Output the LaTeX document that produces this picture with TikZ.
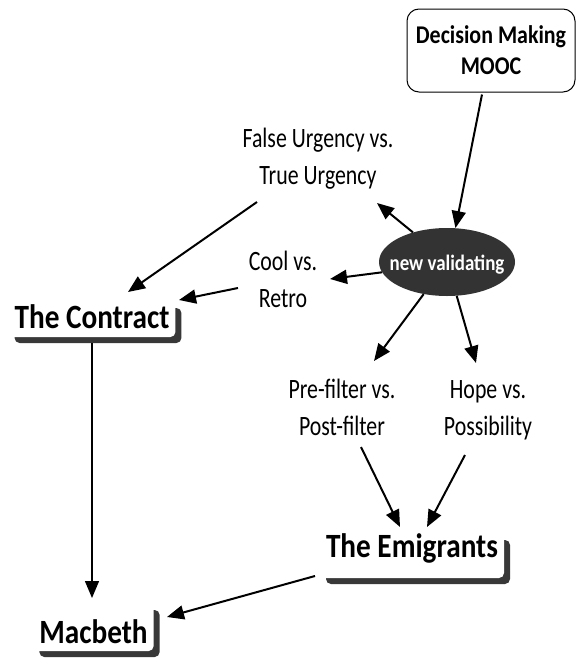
\documentclass[tikz,border=0pt]{standalone}
\usepackage{fontspec}
\setmainfont{Carlito}[FakeStretch=0.86]
\newfontfamily\topicfont{Carlito}[FakeStretch=0.78]
\usetikzlibrary{arrows.meta,shapes.geometric,shadows}
\begin{document}
\begin{tikzpicture}[x=1pt,y=-1pt,
  link/.style={line width=2pt,-{Triangle[length=17pt,width=14pt]}},
  thinlink/.style={link,line width=1.4pt},
  topic/.style={anchor=base,align=center,inner sep=0pt,
    font=\topicfont\fontsize{28}{36.5}\selectfont},
  title/.style={anchor=base,fill=white,rounded corners=5pt,
    inner xsep=6pt,inner ysep=0pt,
    font=\fontsize{34}{40}\selectfont\bfseries,
    drop shadow={shadow xshift=6pt,shadow yshift=-6pt,fill=black!78,opacity=1}},
  hub/.style={ellipse,fill=black!80,inner sep=0pt,
    minimum width=136pt,minimum height=68pt,text=white,
    text height=16pt,text depth=0pt,
    font=\fontsize{22}{26}\selectfont\bfseries},
  source/.style={draw,line width=1pt,rounded corners=12pt,
    minimum width=168pt,minimum height=83pt,align=center,
    font=\fontsize{25.5}{31}\selectfont\bfseries}
]
\useasboundingbox (0,0) rectangle (576,659);
\fill[white] (0,0) rectangle (576,659);

% concept nodes (two-line topics sit on the baseline of their last line)
\node[source] (mooc) at (491,50.5) {Decision Making\\MOOC};
\node[hub] (val) at (447,262) {\makebox[0pt]{new validating}};
\node[topic] (fu) at (318,184) {False Urgency vs.\\True Urgency};
\node[topic] (cool) at (283,307) {Cool vs.\\Retro};
\node[topic] (pre) at (342,435) {Pre-filter vs.\\Post-filter};
\node[topic] (hope) at (488,435) {Hope vs.\\Possibility};
\node[title,text height=26pt,text depth=9pt] (contract) at (92,328) {The Contract};
\node[title,text height=23pt,text depth=21pt] (emig) at (412,557) {The Emigrants};
\node[title,text height=39pt,text depth=8pt] (mac) at (93.5,643) {Macbeth};

% links
\draw[link] ([xshift=-9pt,yshift=-2pt]mooc.south) -- (val.76);
\draw[link] (val.139) -- ([shift={(59,19)}]fu.base);
\draw[link] (val.189) -- ([shift={(47,-28)}]cool.base);
\draw[link] (val.234) -- ([shift={(32,-74)}]pre.base);
\draw[link] (val.286) -- ([shift={(-12,-72)}]hope.base);
\draw[link] ([shift={(-61,18)}]fu.base) -- ([shift={(36,-36)}]contract.base);
\draw[link] ([shift={(-45,-19)}]cool.base) -- ([shift={(87,-28)}]contract.base);
\draw[thinlink] ([shift={(0,15)}]contract.base) -- ([shift={(-1.5,-45)}]mac.base);
\draw[link] ([shift={(19,12)}]pre.base) -- ([shift={(-12,-30)}]emig.base);
\draw[link] ([shift={(-23,20)}]hope.base) -- ([shift={(15,-30)}]emig.base);
\draw[link] ([shift={(-97,19)}]emig.base) -- ([shift={(73.5,-26)}]mac.base);
\end{tikzpicture}
\end{document}
